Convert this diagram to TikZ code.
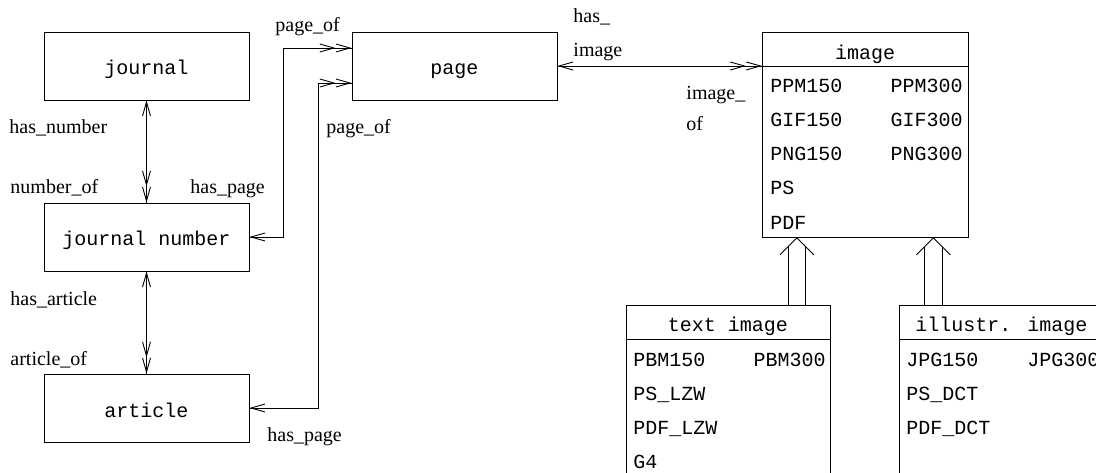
\documentclass[tikz,border=0pt]{standalone}
\usepackage{fontspec}
\setmainfont{Liberation Serif}
\newfontfamily\monof{Liberation Mono}
\usetikzlibrary{arrows.meta,calc}
\begin{document}
\begin{tikzpicture}[x=1pt,y=-1pt,
  line width=0.9pt,
  >={Straight Barb[length=14pt,width=8pt]},
  ebox/.style={draw, rectangle, minimum width=205pt, minimum height=68pt, inner sep=0pt,
    font=\monof\fontsize{20}{24}\selectfont, text height=18pt, text depth=0pt},
  cbox/.style={draw, rectangle, anchor=north west, inner sep=0pt},
  mono/.style={font=\monof\fontsize{20}{24}\selectfont, inner sep=0pt, anchor=base west},
  lbl/.style={font=\fontsize{20}{24}\selectfont, inner sep=0pt, anchor=base west},
  rel/.style={draw, postaction={draw, <->>}}
]
\useasboundingbox (0,0) rectangle (1096,473);
\clip (0,0) rectangle (1096,473);

% entity boxes
\node[ebox] (journal) at (146.5,66) {journal};
\node[ebox] (jn) at (146.5,237) {journal number};
\node[ebox] (article) at (146.5,408) {article};
\node[ebox] (page) at (454.5,66) {page};

% image class
\node[cbox, minimum width=206pt, minimum height=205pt] (image) at (762,32) {};
\draw ($(image.north west)+(0,34)$) -- ($(image.north east)+(0,34)$);
\node[mono, anchor=base] at (865,59.5) {image};
\node[mono] at (770,93) {PPM150};
\node[mono] at (770,127) {GIF150};
\node[mono] at (770,161) {PNG150};
\node[mono] at (770,195) {PS};
\node[mono] at (770,230) {PDF};
\node[mono, anchor=base east] at (963,93) {PPM300};
\node[mono, anchor=base east] at (963,127) {GIF300};
\node[mono, anchor=base east] at (963,161) {PNG300};

% text image class
\node[cbox, minimum width=204pt, minimum height=220pt] (timg) at (626,305) {};
\draw ($(timg.north west)+(0,34)$) -- ($(timg.north east)+(0,34)$);
\node[mono, anchor=base] at (728,331) {text image};
\node[mono] at (633,366.7) {PBM150};
\node[mono, anchor=base east] at (826,366.7) {PBM300};
\node[mono] at (633,400.7) {PS\_LZW};
\node[mono] at (633,434.7) {PDF\_LZW};
\node[mono] at (633,468.3) {G4};

% illustr. image class
\node[cbox, minimum width=205pt, minimum height=220pt] (iimg) at (899,305) {};
\draw ($(iimg.north west)+(0,34)$) -- ($(iimg.north east)+(0,34)$);
\node[mono, anchor=base] at (1001.5,331) {illustr. image};
\node[mono] at (906,366.7) {JPG150};
\node[mono] at (1027,366.7) {JPG300};
\node[mono] at (906,400.7) {PS\_DCT};
\node[mono] at (906,434.7) {PDF\_DCT};

% inheritance arrows
\coordinate (ta) at ($(image.south)+(-68.5,0)$);
\coordinate (tb) at (ta|-timg.north);
\draw ($(ta)+(-8.5,8.5)$) -- ($(tb)+(-8.5,0)$);
\draw ($(ta)+(8.5,8.5)$) -- ($(tb)+(8.5,0)$);
\draw ($(ta)+(-17,17)$) -- (ta) -- ($(ta)+(17,17)$);
\coordinate (ia) at ($(image.south)+(68,0)$);
\coordinate (ib) at (ia|-iimg.north);
\draw ($(ia)+(-9,9)$) -- ($(ib)+(-9,0)$);
\draw ($(ia)+(9,9)$) -- ($(ib)+(9,0)$);
\draw ($(ia)+(-17,17)$) -- (ia) -- ($(ia)+(17,17)$);

% relationships
\path[rel] (journal) -- (jn);
\path[rel] (jn) -- (article);
\path[rel] (jn.east) -- ++(34,0) |- ($(page.west)+(0,-18)$);
\path[rel] (article.east) -- ++(68.5,0) |- ($(page.west)+(0,17)$);
\path[rel] (page.east) -- (page.east -| image.west);

% labels
\node[lbl] at (9,134) {has\_number};
\node[lbl] at (10,194) {number\_of};
\node[lbl] at (190,194) {has\_page};
\node[lbl] at (275,32) {page\_of};
\node[lbl] at (326,134) {page\_of};
\node[lbl] at (10,306) {has\_article};
\node[lbl] at (10,366) {article\_of};
\node[lbl] at (267,441) {has\_page};
\node[lbl] at (573,23) {has\_};
\node[lbl] at (573,57) {image};
\node[lbl] at (686,100) {image\_};
\node[lbl] at (686,131) {of};
\end{tikzpicture}
\end{document}
